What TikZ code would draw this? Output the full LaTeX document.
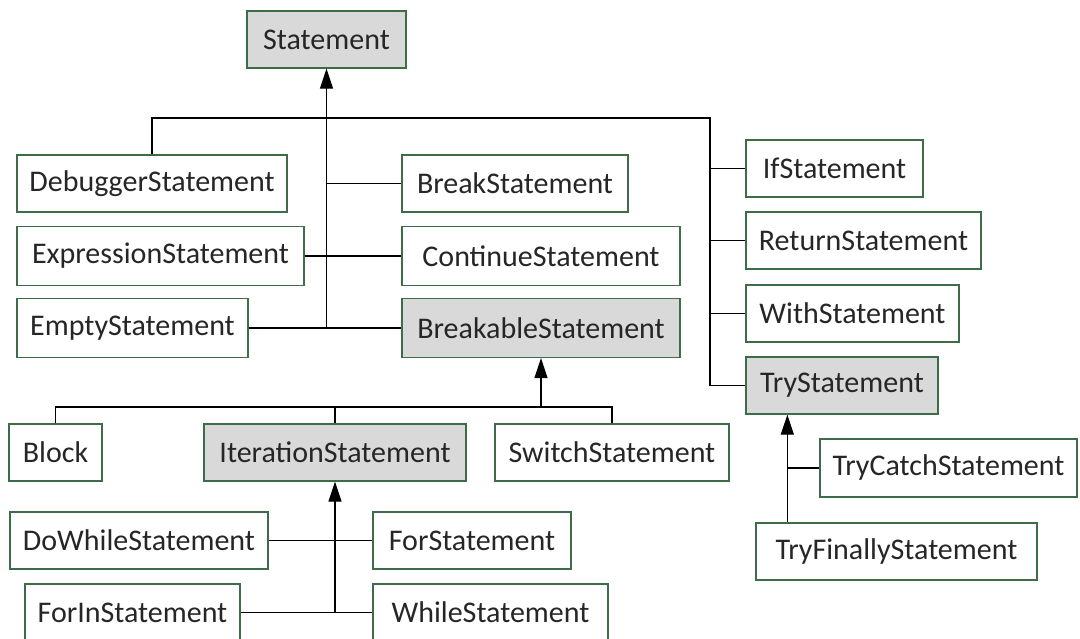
\documentclass[tikz,border=0pt]{standalone}
\usepackage{fontspec}
\setmainfont{Carlito}
\usetikzlibrary{arrows.meta,calc}
\definecolor{boxline}{RGB}{62,108,72}
\definecolor{boxgray}{RGB}{217,217,217}
\definecolor{txt}{RGB}{38,38,38}
\tikzset{
  cls/.style={draw=boxline, line width=1.3pt, fill=white, inner sep=0pt,
    minimum height=57pt, text=txt, font=\fontsize{30}{36}\selectfont},
  abstractcls/.style={cls, fill=boxgray},
  link/.style={line width=1.2pt, black},
  inherit/.style={link, -{Triangle[length=20pt,width=13pt]}}
}
\begin{document}
\begin{tikzpicture}[x=1pt,y=-1pt]
\useasboundingbox (0,0) rectangle (1080,639);
% classes
\node[abstractcls, minimum width=159pt] (stmt) at (326.5,39.5) {Statement};
\node[cls, minimum width=270pt] (dbg) at (152,183.5) {DebuggerStatement};
\node[cls, minimum width=287pt, minimum height=59pt] (expr) at (160.5,256) {ExpressionStatement};
\node[cls, minimum width=231pt, minimum height=59pt] (empty) at (132.5,328) {EmptyStatement};
\node[cls, minimum width=226pt] (brkst) at (515,183.5) {BreakStatement};
\node[cls, minimum width=278pt, minimum height=59pt] (cont) at (541,256) {ContinueStatement};
\node[abstractcls, minimum width=278pt, minimum height=59pt] (brkable) at (541,328) {BreakableStatement};
\node[cls, minimum width=177pt] (ifst) at (834.5,168.5) {IfStatement};
\node[cls, minimum width=235pt] (ret) at (863.5,240.5) {ReturnStatement};
\node[cls, minimum width=213pt] (with) at (852.5,313.5) {WithStatement};
\node[abstractcls, minimum width=192pt] (try) at (842,385.5) {TryStatement};
\node[cls, minimum width=93pt] (block) at (55.5,452.5) {Block};
\node[abstractcls, minimum width=262pt] (iter) at (335,452.5) {IterationStatement};
\node[cls, minimum width=234pt] (switch) at (612,452.5) {SwitchStatement};
\node[cls, minimum width=258pt] (dowhile) at (139,540.5) {DoWhileStatement};
\node[cls, minimum width=198pt] (for) at (472,540.5) {ForStatement};
\node[cls, minimum width=215pt] (forin) at (132.5,612.5) {ForInStatement};
\node[cls, minimum width=235pt] (while) at (490.5,612.5) {WhileStatement};
\node[cls, minimum width=257pt, minimum height=58pt] (tcatch) at (948.5,468) {TryCatchStatement};
\node[cls, minimum width=281pt] (tfin) at (896.5,551.5) {TryFinallyStatement};
% junction points
\coordinate (top) at (stmt.south |- 0,118);
\coordinate (rtrunk) at (try.west -| 710,0);
\coordinate (bus) at (brkable.south |- 0,407);
\coordinate (tryx) at ($(try.south west)+(42,0)$);
% Statement hierarchy
\draw[inherit] (top) -- (stmt.south);
\draw[link] (dbg.north) |- (top) -| (rtrunk) -- (try.west);
\draw[link] (top) -- (top |- empty.east);
\draw[link] (empty.east) -- (brkable.west);
\draw[link] (expr.east) -- (cont.west);
\draw[link] (brkst.west) -- (brkst.west -| top);
\draw[link] (ifst.west) -- (ifst.west -| rtrunk);
\draw[link] (ret.west) -- (ret.west -| rtrunk);
\draw[link] (with.west) -- (with.west -| rtrunk);
% BreakableStatement hierarchy
\draw[inherit] (bus) -- (brkable.south);
\draw[link] (block.north) |- (bus) -| (switch.north);
\draw[link] (iter.north) -- (iter.north |- bus);
% IterationStatement hierarchy
\draw[inherit] (iter.south |- forin.east) -- (iter.south);
\draw[link] (dowhile.east) -- (for.west);
\draw[link] (forin.east) -- (while.west);
% TryStatement hierarchy
\draw[inherit] (tryx |- tfin.north) -- (tryx);
\draw[link] (tcatch.west) -- (tcatch.west -| tryx);
\end{tikzpicture}
\end{document}
